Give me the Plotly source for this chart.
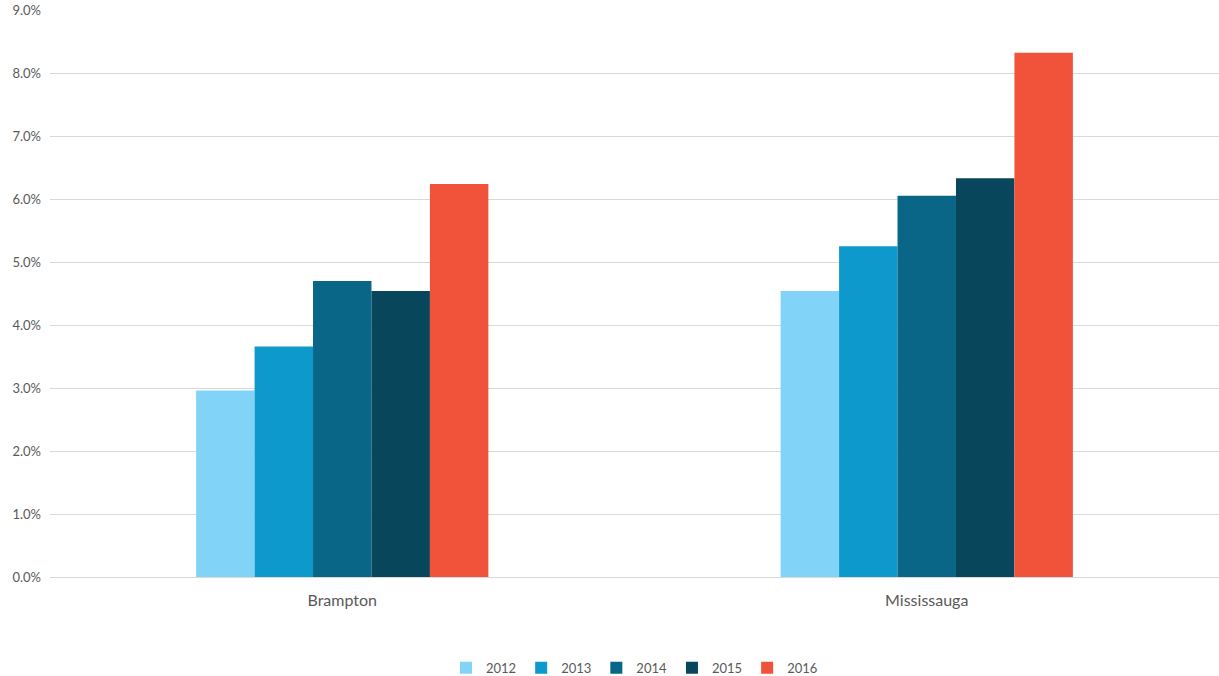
import plotly.graph_objects as go

cities = ["Brampton", "Mississauga"]
years = ["2012", "2013", "2014", "2015", "2016"]
values_2012 = [2.96, 4.54]
values_2013 = [3.66, 5.25]
values_2014 = [4.70, 6.05]
values_2015 = [4.54, 6.33]
values_2016 = [6.24, 8.32]
series = [values_2012, values_2013, values_2014, values_2015, values_2016]
colors = ["#81D3F7", "#0E99CD", "#0A6687", "#07465B", "#F0533A"]

fig = go.Figure()
for year, vals, color in zip(years, series, colors):
    fig.add_trace(go.Bar(
        name=year,
        x=cities,
        y=[v / 100 for v in vals],
        marker=dict(color=color, line=dict(width=0)),
    ))

fig.update_layout(
    barmode="group",
    bargap=0.5,
    bargroupgap=0,
    width=1219,
    height=676,
    margin=dict(l=50, r=0, t=10, b=99, autoexpand=False),
    plot_bgcolor="white",
    paper_bgcolor="white",
    font=dict(family="Lato, 'Open Sans', sans-serif", color="#595959"),
    legend=dict(
        orientation="h",
        x=0.5, xanchor="center",
        y=-0.16, yanchor="middle",
        font=dict(size=13, color="#595959"),
        itemwidth=30,
        traceorder="normal",
    ),
)
fig.update_yaxes(
    range=[0, 0.09],
    dtick=0.01,
    tickformat=".1%",
    showgrid=True,
    gridcolor="#D9D9D9",
    gridwidth=1,
    zeroline=True,
    zerolinecolor="#D9D9D9",
    zerolinewidth=1,
    tickfont=dict(size=13, color="#595959"),
    ticks="",
    ticklabelstandoff=8,
    automargin=False,
)
fig.update_xaxes(
    showline=False,
    ticks="",
    tickfont=dict(size=16, color="#595959"),
    ticklabelstandoff=12,
    automargin=False,
)

fig.write_html("out.html")
